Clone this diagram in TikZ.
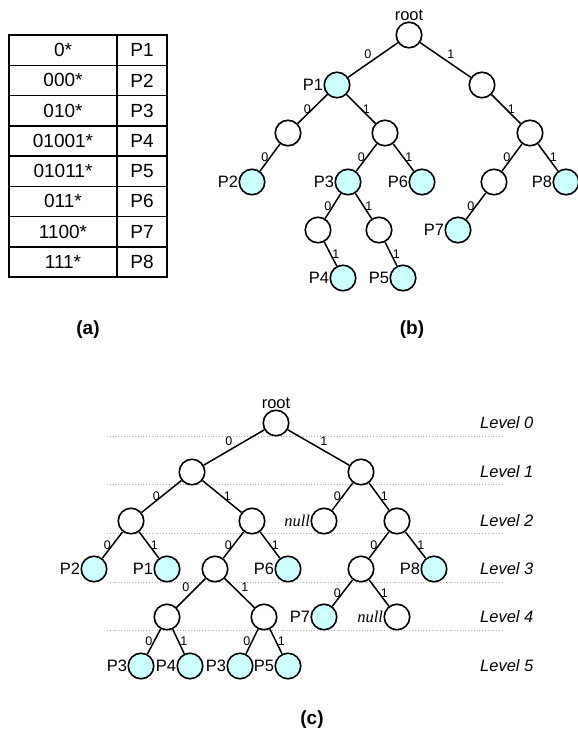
\documentclass[tikz,border=0pt]{standalone}
\usepackage{fontspec}
\setmainfont{Liberation Sans}
\newfontfamily\nullfam{Liberation Serif}
\begin{document}
\begin{tikzpicture}[x=1pt,y=-1pt,
  nd/.style={circle,draw=black,line width=1.6pt,fill=white,minimum size=25.5pt,inner sep=0pt},
  pn/.style={nd,fill=cyanfill},
  plab/.style={font=\fontsize{16.5}{16.5}\selectfont,inner sep=0.3pt,anchor=east},
  nlab/.style={font=\nullfam\itshape\fontsize{16.5}{16.5}\selectfont,inner sep=0.3pt,anchor=east},
  rootlab/.style={font=\fontsize{16.5}{16.5}\selectfont,inner sep=0pt},
  lnk/.style={line width=1.5pt},
  l0/.style={font=\fontsize{12.5}{12.5}\selectfont,inner sep=1pt,midway,left},
  l1/.style={font=\fontsize{12.5}{12.5}\selectfont,inner sep=1pt,midway,right},
  a0/.style={font=\fontsize{12.5}{12.5}\selectfont,inner sep=1pt,midway,above left},
  a1/.style={font=\fontsize{12.5}{12.5}\selectfont,inner sep=1pt,midway,above right},
  cell/.style={font=\fontsize{19}{19}\selectfont,inner sep=0pt},
  figcap/.style={font=\bfseries\fontsize{19}{19}\selectfont,inner sep=0pt},
  lvl/.style={font=\itshape\fontsize{16.5}{16.5}\selectfont,inner sep=0pt},
  tline/.style={line width=1.5pt},
  dotline/.style={draw=black!30,line width=0.8pt,dash pattern=on 0.8pt off 2pt}
]
\definecolor{cyanfill}{RGB}{204,255,255}
\useasboundingbox (0,0) rectangle (578,732);

% ---------- (a) table ----------
\draw[tline] (9,35) rectangle (167,277);
\draw[tline] (117,35) -- (117,277);
\foreach \i in {1,...,7}{
  \draw[tline] (9,{35+30.25*\i}) -- (167,{35+30.25*\i});
}
\foreach \pre/\p [count=\i from 0] in {0*/P1,000*/P2,010*/P3,01001*/P4,01011*/P5,011*/P6,1100*/P7,111*/P8}{
  \node[cell] (ta\i) at (63,{35+30.25*(\i+0.5)}) {\pre};
  \node[cell] (tb\i) at (142,{35+30.25*(\i+0.5)}) {\p};
}
\node[figcap] (capa) at (88,330) {(a)};

% ---------- (b) tree ----------
\node[nd] (b0) at (409,35) {};
\node[rootlab] (broot) at (409,15) {root};
\node[pn] (b1) at (337,85) {};
\node[nd] (b2) at (482,85) {};
\node[nd] (b3) at (288,133) {};
\node[nd] (b4) at (385,133) {};
\node[nd] (b5) at (530,133) {};
\node[pn] (b6) at (252,182) {};
\node[pn] (b7) at (348,182) {};
\node[pn] (b8) at (422,182) {};
\node[nd] (b9) at (494,182) {};
\node[pn] (b10) at (566,182) {};
\node[nd] (b11) at (318,230) {};
\node[nd] (b12) at (379,230) {};
\node[pn] (b13) at (458,230) {};
\node[pn] (b14) at (343,278) {};
\node[pn] (b15) at (403,278) {};
\node[plab] (bl1) at (b1.west) {P1};
\node[plab] (bl6) at (b6.west) {P2};
\node[plab] (bl7) at (b7.west) {P3};
\node[plab] (bl8) at (b8.west) {P6};
\node[plab] (bl10) at (b10.west) {P8};
\node[plab] (bl13) at (b13.west) {P7};
\node[plab] (bl14) at (b14.west) {P4};
\node[plab] (bl15) at (b15.west) {P5};
\draw[lnk] (b0) -- node[a0]{0} (b1);
\draw[lnk] (b0) -- node[a1]{1} (b2);
\draw[lnk] (b1) -- node[l0]{0} (b3);
\draw[lnk] (b1) -- node[l1]{1} (b4);
\draw[lnk] (b2) -- node[l1]{1} (b5);
\draw[lnk] (b3) -- node[l0]{0} (b6);
\draw[lnk] (b4) -- node[l0]{0} (b7);
\draw[lnk] (b4) -- node[l1]{1} (b8);
\draw[lnk] (b5) -- node[l0]{0} (b9);
\draw[lnk] (b5) -- node[l1]{1} (b10);
\draw[lnk] (b7) -- node[l0]{0} (b11);
\draw[lnk] (b7) -- node[l1]{1} (b12);
\draw[lnk] (b9) -- node[l0]{0} (b13);
\draw[lnk] (b11) -- node[l1]{1} (b14);
\draw[lnk] (b12) -- node[l1]{1} (b15);
\node[figcap] (capb) at (412,330) {(b)};

% ---------- (c) level lines ----------
\foreach \y [count=\k] in {436,484,533,582,630}{
  \coordinate (dl\k) at (107,\y);
  \coordinate (dr\k) at (503,\y);
  \draw[dotline] (dl\k) -- (dr\k);
}
\foreach \y/\t [count=\k from 0] in {423/0,472/1,521/2,569/3,617/4,666/5}{
  \node[lvl,anchor=west] (lv\k) at (480,\y) {Level \t};
}

% ---------- (c) tree ----------
\node[nd] (c0) at (276,423) {};
\node[rootlab] (croot) at (276,403) {root};
\node[nd] (c1) at (192,472) {};
\node[nd] (c2) at (361,472) {};
\node[nd] (c3) at (131,521) {};
\node[nd] (c4) at (252,521) {};
\node[nd] (c5) at (324,521) {};
\node[nd] (c6) at (397,521) {};
\node[pn] (c7) at (94,569) {};
\node[pn] (c8) at (167,569) {};
\node[nd] (c9) at (215,569) {};
\node[pn] (c10) at (288,569) {};
\node[nd] (c11) at (361,569) {};
\node[pn] (c12) at (434,569) {};
\node[nd] (c13) at (167,617) {};
\node[nd] (c14) at (264,617) {};
\node[pn] (c15) at (324,617) {};
\node[nd] (c16) at (397,617) {};
\node[pn] (c17) at (141,666) {};
\node[pn] (c18) at (190,666) {};
\node[pn] (c19) at (240,666) {};
\node[pn] (c20) at (288,666) {};
\node[nlab] (cl5) at (c5.west) {null};
\node[nlab] (cl16) at (c16.west) {null};
\node[plab] (cl7) at (c7.west) {P2};
\node[plab] (cl8) at (c8.west) {P1};
\node[plab] (cl10) at (c10.west) {P6};
\node[plab] (cl12) at (c12.west) {P8};
\node[plab] (cl15) at (c15.west) {P7};
\node[plab] (cl17) at (c17.west) {P3};
\node[plab] (cl18) at (c18.west) {P4};
\node[plab] (cl19) at (c19.west) {P3};
\node[plab] (cl20) at (c20.west) {P5};
\draw[lnk] (c0) -- node[a0]{0} (c1);
\draw[lnk] (c0) -- node[a1]{1} (c2);
\draw[lnk] (c1) -- node[l0]{0} (c3);
\draw[lnk] (c1) -- node[l1]{1} (c4);
\draw[lnk] (c2) -- node[l0]{0} (c5);
\draw[lnk] (c2) -- node[l1]{1} (c6);
\draw[lnk] (c3) -- node[l0]{0} (c7);
\draw[lnk] (c3) -- node[l1]{1} (c8);
\draw[lnk] (c4) -- node[l0]{0} (c9);
\draw[lnk] (c4) -- node[l1]{1} (c10);
\draw[lnk] (c6) -- node[l0]{0} (c11);
\draw[lnk] (c6) -- node[l1]{1} (c12);
\draw[lnk] (c9) -- node[a0]{0} (c13);
\draw[lnk] (c9) -- node[a1]{1} (c14);
\draw[lnk] (c11) -- node[l0]{0} (c15);
\draw[lnk] (c11) -- node[l1]{1} (c16);
\draw[lnk] (c13) -- node[l0]{0} (c17);
\draw[lnk] (c13) -- node[l1]{1} (c18);
\draw[lnk] (c14) -- node[l0]{0} (c19);
\draw[lnk] (c14) -- node[l1]{1} (c20);
\node[figcap] (capc) at (312,720) {(c)};
\end{tikzpicture}
\end{document}
